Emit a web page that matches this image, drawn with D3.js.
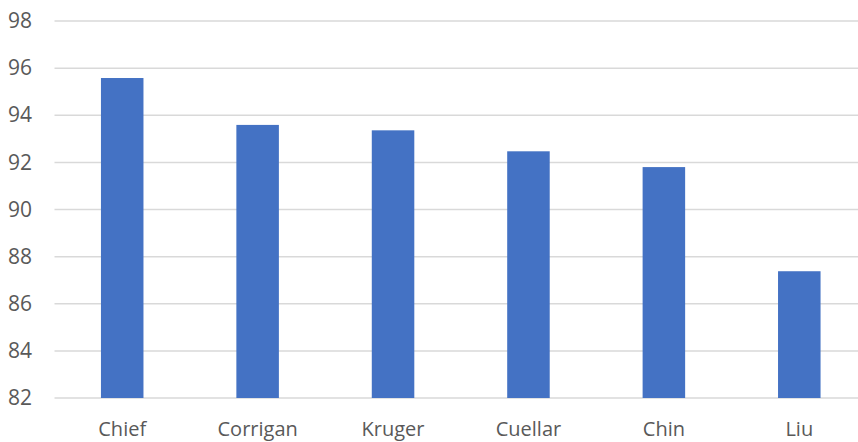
<!DOCTYPE html>
<html>
<head>
<meta charset="utf-8">
<script src="https://cdn.jsdelivr.net/npm/d3@7"></script>
<style>
  html, body { margin: 0; padding: 0; background: #fff; overflow: hidden; }
  svg { display: block; }
  text { font-family: "Open Sans", sans-serif; fill: #595959; }
</style>
</head>
<body>
<svg id="chart" width="858" height="442"></svg>
<script>
// Scores by name
const names = ["Chief", "Corrigan", "Kruger", "Cuellar", "Chin", "Liu"];
const scores = [95.58, 93.59, 93.36, 92.47, 91.80, 87.38];
const yTicks = [82, 84, 86, 88, 90, 92, 94, 96, 98];

const svg = d3.select("#chart");
const plot = { left: 54.5, right: 867, top: 21, bottom: 398 };

const x = d3.scaleBand().domain(names).range([plot.left, plot.right]).paddingInner(0.686).paddingOuter(0.343);
const y = d3.scaleLinear().domain([82, 98]).range([plot.bottom, plot.top]);

// Horizontal gridlines
svg.append("g")
  .selectAll("line")
  .data(yTicks)
  .join("line")
  .attr("x1", plot.left).attr("x2", plot.right)
  .attr("y1", d => y(d)).attr("y2", d => y(d))
  .attr("stroke", "#d9d9d9").attr("stroke-width", 1.5);

// Bars
svg.append("g")
  .selectAll("rect")
  .data(names.map((n, i) => ({ n, v: scores[i] })))
  .join("rect")
  .attr("x", d => x(d.n))
  .attr("width", x.bandwidth())
  .attr("y", d => y(d.v))
  .attr("height", d => y(82) - y(d.v))
  .attr("fill", "#4472C4");

// Y axis labels
const yAxis = d3.axisLeft(y).tickValues(yTicks).tickSize(0).tickPadding(0);
const gy = svg.append("g").attr("transform", "translate(32,0)").call(yAxis);
gy.select(".domain").remove();
gy.selectAll("text").attr("font-size", 21).attr("font-family", "Open Sans, sans-serif").attr("fill", "#595959");

// X axis labels
const xAxis = d3.axisBottom(x).tickSize(0).tickPadding(0);
const gx = svg.append("g").attr("transform", "translate(0,422)").call(xAxis);
gx.select(".domain").remove();
gx.selectAll("text").attr("font-size", 20).attr("font-family", "Open Sans, sans-serif").attr("fill", "#595959");
</script>
</body>
</html>
